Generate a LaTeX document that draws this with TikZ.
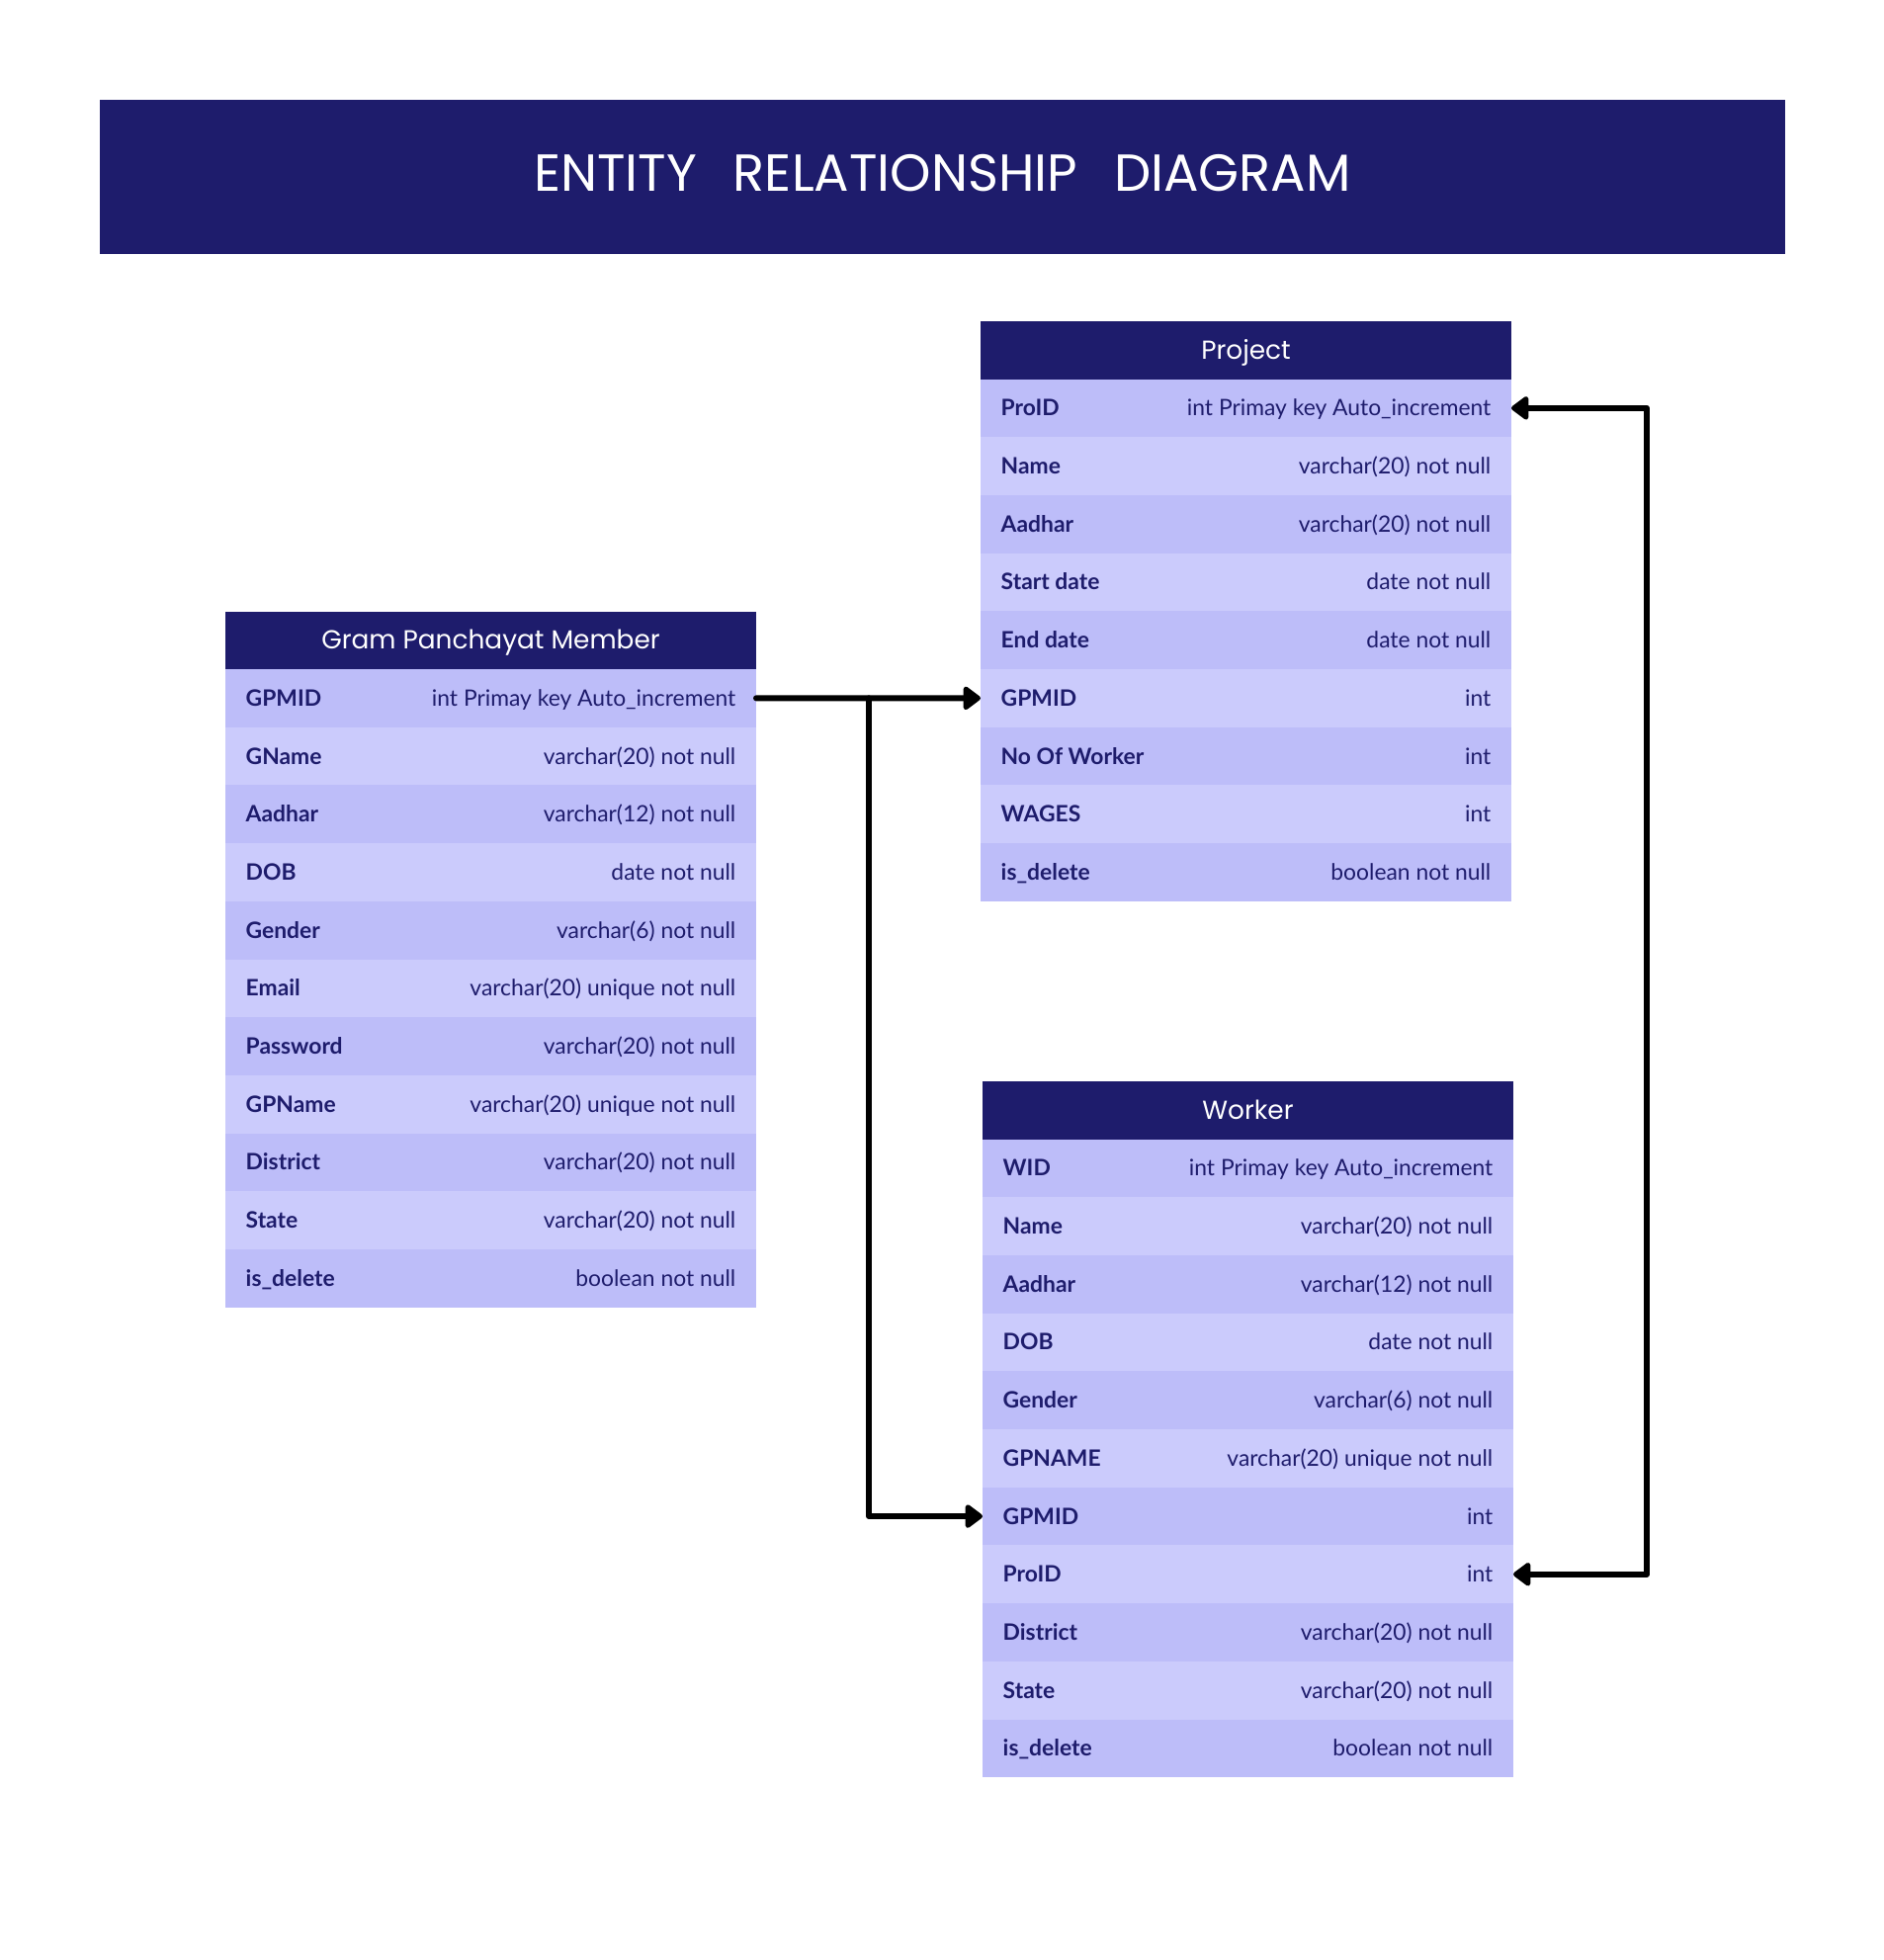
\documentclass[tikz,border=0pt]{standalone}
\usepackage{fontspec}
\setmainfont{Lato}
\newfontfamily\headfont{Poppins}
\usetikzlibrary{arrows.meta}
\usetikzlibrary{positioning}
\usepackage{graphicx}
\definecolor{navy}{RGB}{30,28,108}
\definecolor{rowdark}{RGB}{189,189,249}
\definecolor{rowlight}{RGB}{203,203,252}

\tikzset{
    banner/.style={fill=navy, anchor=north west, inner sep=0pt, outer sep=0pt, minimum width=17.05cm, minimum height=1.56cm},
    titletext/.style={text=white, anchor=base, inner sep=0pt, font=\headfont\fontsize{15}{18}\selectfont},
    tablehead/.style={fill=navy, anchor=north west, inner sep=0pt, outer sep=0pt, minimum width=5.37cm, minimum height=0.585cm},
    headtext/.style={text=white, anchor=base, inner sep=0pt, font=\headfont\fontsize{7.5}{8.5}\selectfont},
    fieldrow/.style={inner sep=0pt, outer sep=0pt, minimum width=5.37cm, minimum height=0.587cm},
    fieldname/.style={text=navy, anchor=base west, inner sep=0pt, font=\bfseries\fontsize{6.5}{7.5}\selectfont},
    fieldtype/.style={text=navy, anchor=base east, inner sep=0pt, font=\fontsize{6.5}{7.5}\selectfont},
    tip/.tip={Triangle[round, length=0.19cm, width=0.27cm]},
    conn/.style={line width=0.06cm, line cap=round, line join=round, -tip}
}

% one table: name, title, north west corner, rows
\newcommand{\entity}[4]{%
    \node[tablehead] (#1-0) at (#3) {};
    \node[headtext] (#1-title) at ([yshift=-0.09cm]#1-0.center) {#2};
    \foreach \fld/\typ [count=\i, remember=\i as \j (initially 0)] in {#4} {
        \ifodd\i \def\shade{rowdark}\else \def\shade{rowlight}\fi
        \node[fieldrow, fill=\shade, below=0pt of #1-\j] (#1-\i) {};
        \node[fieldname] (#1-\i-f) at ([xshift=0.2cm, yshift=-0.08cm]#1-\i.west) {\fld};
        \node[fieldtype] (#1-\i-t) at ([xshift=-0.2cm, yshift=-0.08cm]#1-\i.east) {\typ};
    }
}

\begin{document}
\begin{tikzpicture}
    \useasboundingbox (0,0) rectangle (19.06,-19.83);

    \node[banner] (banner) at (1.01,-1.01) {};
    \node[titletext] (title) at ([yshift=-0.14cm]banner.center) {ENTITY\hspace{0.7em}RELATIONSHIP\hspace{0.7em}DIAGRAM};

    \entity{gpm}{Gram Panchayat Member}{2.28,-6.185}{GPMID/int Primay key Auto\_increment, GName/varchar(20) not null, Aadhar/varchar(12) not null, DOB/date not null, Gender/varchar(6) not null, Email/varchar(20) unique not null, Password/varchar(20) not null, GPName/varchar(20) unique not null, District/varchar(20) not null, State/varchar(20) not null, is\_delete/boolean not null}

    \entity{pro}{Project}{9.92,-3.25}{ProID/int Primay key Auto\_increment, Name/varchar(20) not null, Aadhar/varchar(20) not null, Start date/date not null, End date/date not null, GPMID/int, No Of Worker/int, WAGES/int, is\_delete/boolean not null}

    \entity{wrk}{Worker}{9.94,-10.94}{WID/int Primay key Auto\_increment, Name/varchar(20) not null, Aadhar/varchar(12) not null, DOB/date not null, Gender/varchar(6) not null, GPNAME/varchar(20) unique not null, GPMID/int, ProID/int, District/varchar(20) not null, State/varchar(20) not null, is\_delete/boolean not null}

    % foreign keys
    \coordinate (split) at ([xshift=1.14cm]gpm-1.east);
    \draw[conn] (gpm-1.east) -- (pro-6.west);
    \draw[conn] (split) |- (wrk-7.west);
    \draw[conn, tip-tip] (wrk-8.east) -- ++(1.35,0) |- (pro-1.east);

\end{tikzpicture}
\end{document}
